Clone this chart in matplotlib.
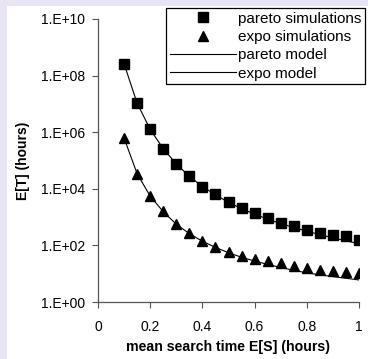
import matplotlib
matplotlib.use("Agg")
from matplotlib import pyplot as plt
from matplotlib.patches import Rectangle

plt.rcParams['font.family'] = ['Liberation Sans', 'DejaVu Sans']

mean_search = [0.1, 0.15, 0.2, 0.25, 0.3, 0.35, 0.4, 0.45, 0.5, 0.55,
               0.6, 0.65, 0.7, 0.75, 0.8, 0.85, 0.9, 0.95, 1.0]

pareto_sim = [2.6e8, 1.05e7, 1.26e6, 2.6e5, 7.6e4, 2.75e4, 1.2e4, 6.3e3, 3.4e3, 2.1e3,
              1.35e3, 955, 630, 480, 355, 280, 240, 210, 160]
expo_sim = [6.2e5, 3.4e4, 5.5e3, 1.6e3, 575, 270, 148, 91, 60, 43,
            32, 27, 23.5, 18, 15.5, 13.8, 12.3, 11.2, 10.5]
pareto_model = [2.6e8, 1.05e7, 1.26e6, 2.6e5, 7.6e4, 2.75e4, 1.2e4, 6.2e3, 3.3e3, 2.0e3,
                1.26e3, 850, 590, 430, 320, 240, 186, 145, 115]
expo_model = [6.2e5, 3.4e4, 5.5e3, 1.55e3, 560, 260, 140, 85, 55, 38,
              28, 21.4, 16.6, 13.2, 10.7, 9.1, 7.9, 6.9, 6.0]

x_ticks = [0, 0.2, 0.4, 0.6, 0.8, 1.0]
x_labels = ['0', '0.2', '0.4', '0.6', '0.8', '1']
y_ticks = [1e0, 1e2, 1e4, 1e6, 1e8, 1e10]
y_labels = ['1.E+00', '1.E+02', '1.E+04', '1.E+06', '1.E+08', '1.E+10']

fig = plt.figure(figsize=(3.68, 3.59), dpi=100, facecolor='#e9e4f3')
# white panel inside the lavender frame
fig.patches.append(Rectangle((7 / 368, 0), 1, 1 - 6 / 359, transform=fig.transFigure,
                             facecolor='white', edgecolor='none', zorder=-5))

ax = fig.add_axes([98 / 368, 1 - 302 / 359, 261 / 368, 283 / 359])
ax.set_facecolor('white')

ax.plot(mean_search, pareto_sim, 's', color='black', markersize=6.5, label='pareto simulations', zorder=3)
ax.plot(mean_search, expo_sim, '^', color='black', markersize=7, label='expo simulations', zorder=3)
ax.plot(mean_search, pareto_model, '-', color='black', linewidth=0.8, label='pareto model')
ax.plot(mean_search, expo_model, '-', color='black', linewidth=0.8, label='expo model')

ax.set_yscale('log')
ax.set_xlim(0, 1)
ax.set_ylim(1, 1e10)
ax.set_xticks(x_ticks)
ax.set_xticklabels(x_labels)
ax.set_yticks(y_ticks)
ax.set_yticklabels(y_labels)
ax.minorticks_off()
ax.tick_params(labelsize=10, length=4, width=0.8, color='#555555')
ax.tick_params(axis='x', pad=9)
ax.tick_params(axis='y', pad=5)

for s in ['top', 'right']:
    ax.spines[s].set_visible(False)
for s in ['left', 'bottom']:
    ax.spines[s].set_color('#555555')
    ax.spines[s].set_linewidth(0.9)

ax.set_xlabel('mean search time E[S] (hours)', fontsize=10.2, fontweight='bold', labelpad=4)
ax.set_ylabel('E[T] (hours)', fontsize=10, fontweight='bold', labelpad=8)

leg = fig.legend(loc='upper left', bbox_to_anchor=(166 / 368, 1 - 8 / 359), fontsize=11,
                 handlelength=4.3, handletextpad=0.15, labelspacing=0.28,
                 borderpad=0.25, borderaxespad=0, fancybox=False, framealpha=1,
                 edgecolor='black')
leg.get_frame().set_linewidth(0.9)
leg.set_zorder(10)

fig.savefig('out.png', dpi=100, facecolor=fig.get_facecolor())
